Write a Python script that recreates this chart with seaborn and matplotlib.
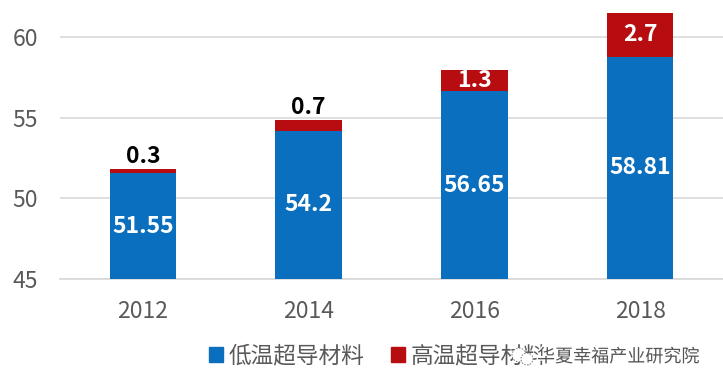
import matplotlib
matplotlib.use('Agg')
import matplotlib.pyplot as plt
import matplotlib.patheffects as pe
from matplotlib.patches import Patch, Circle
from matplotlib.transforms import IdentityTransform
import seaborn as sns
import pandas as pd

years = ['2012', '2014', '2016', '2018']
low_temp = [51.55, 54.2, 56.65, 58.81]
high_temp = [0.3, 0.7, 1.3, 2.7]
low_labels = ['51.55', '54.2', '56.65', '58.81']
high_labels = ['0.3', '0.7', '1.3', '2.7']
y_ticks = [45, 50, 55, 60]
legend_names = ['低温超导材料', '高温超导材料']
watermark = '华夏幸福产业研究院'

blue = '#0A6FBE'
red = '#B80D10'
grey = '#595959'

sns.set_theme(style='white')
plt.rcParams['font.family'] = ['Noto Sans CJK SC', 'DejaVu Sans']

df = pd.DataFrame({'year': years, 'low': low_temp, 'high': high_temp})
df['total'] = df['low'] + df['high']

fig = plt.figure(figsize=(7.23, 3.89), dpi=100)
ax = fig.add_axes([60 / 723, 1 - 279 / 389, (723 - 60) / 723, (279 - 10) / 389])

# 先画总高度，再盖上低温部分
sns.barplot(data=df, x='year', y='total', color=red, saturation=1, width=0.4, linewidth=0, ax=ax, zorder=3)
sns.barplot(data=df, x='year', y='low', color=blue, saturation=1, width=0.4, linewidth=0, ax=ax, zorder=3)

ax.set_ylim(45, 61.7)
ax.set_xlim(-0.5, 3.5)
ax.set_yticks(y_ticks)
ax.set_xlabel('')
ax.set_ylabel('')
ax.grid(axis='y', color='#D9D9D9', lw=1.2, zorder=0)
sns.despine(ax=ax, left=True, bottom=False)
ax.spines['bottom'].set_color('#D9D9D9')
ax.tick_params(axis='both', length=0, labelsize=16.5, labelcolor=grey)
ax.tick_params(axis='y', pad=16)
ax.tick_params(axis='x', pad=15)

for i in range(len(years)):
    # 低温标签在可见柱段的中间
    ax.text(i, (45 + low_temp[i]) / 2, low_labels[i], color='white',
            fontsize=16.5, fontweight='bold', ha='center', va='center', zorder=4)
    if i < 2:
        ax.annotate(high_labels[i], (i, low_temp[i] + high_temp[i]), xytext=(0, 8.5),
                    textcoords='offset points', color='black', fontsize=16.5,
                    fontweight='bold', ha='center', va='center', zorder=4)
    else:
        ax.text(i, low_temp[i] + high_temp[i] / 2, high_labels[i], color='white',
                fontsize=16.5, fontweight='bold', ha='center', va='center', zorder=4)

handles = [Patch(color=blue), Patch(color=red)]
fig.legend(handles, legend_names, loc='center left', bbox_to_anchor=(209 / 723, 1 - 356 / 389), ncol=2,
           frameon=False, fontsize=16.3, labelcolor=grey, borderpad=0, borderaxespad=0,
           handlelength=0.6, handleheight=0.6, handletextpad=0.25, columnspacing=1.2)

# 右下角水印，压在图例上
for cx, cy, r in [(519, 34, 7), (527, 30, 6)]:
    fig.add_artist(Circle((cx, cy), r, transform=IdentityTransform(), fc='white', ec='#777777',
                          lw=0.7, ls=(0, (1.5, 1.5)), zorder=6))
fig.text(699 / 723, 1 - 357 / 389, watermark, fontsize=13, color='#555555', ha='right', va='center', zorder=6,
         path_effects=[pe.withStroke(linewidth=2, foreground='white')])

fig.savefig('out.png', dpi=100)
